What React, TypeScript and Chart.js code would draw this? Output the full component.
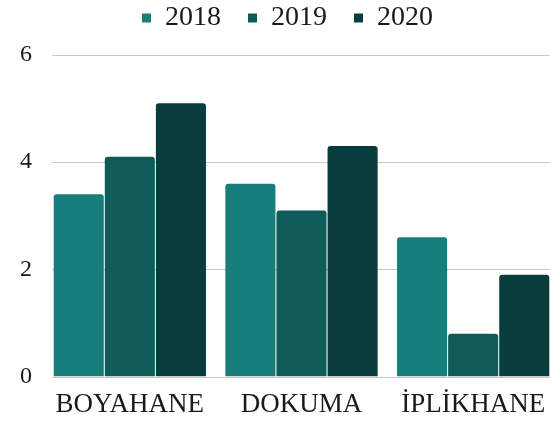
import React, { useEffect, useRef } from "react";
import { Chart, registerables } from "chart.js";

Chart.register(...registerables);

const categories = ["BOYAHANE", "DOKUMA", "İPLİKHANE"];
const seriesLabels = ["2018", "2019", "2020"];
const values2018 = [3.4, 3.6, 2.6];
const values2019 = [4.1, 3.1, 0.8];
const values2020 = [5.1, 4.3, 1.9];
const colors = ["#177e7b", "#0e5b5a", "#083c3d"];
const yTicks = [0, 2, 4, 6];

const FONT = "'Liberation Serif', 'DejaVu Serif', serif";
const CAT_PCT = 0.893;

const insetGrid = {
  id: "insetGrid",
  beforeDatasetsDraw(chart: any) {
    const { ctx, chartArea, scales } = chart;
    const x = scales.x;
    const y = scales.y;
    const catW = (chartArea.right - chartArea.left) / x.ticks.length;
    const inset = (catW * (1 - CAT_PCT)) / 2;
    ctx.save();
    ctx.strokeStyle = "#c8c8c8";
    ctx.lineWidth = 1;
    y.ticks.forEach((t: any) => {
      const py = Math.round(y.getPixelForValue(t.value)) + 0.5;
      ctx.beginPath();
      ctx.moveTo(chartArea.left + inset - 1, py);
      ctx.lineTo(chartArea.right - inset, py);
      ctx.stroke();
    });
    ctx.restore();
  },
};

const legendGap = {
  id: "legendGap",
  beforeInit(chart: any) {
    const legend = chart.legend;
    if (!legend) return;
    const origFit = legend.fit;
    legend.fit = function () {
      origFit.call(this);
      this.height += 13;
    };
  },
};

export default function App() {
  const ref = useRef<HTMLCanvasElement>(null);
  useEffect(() => {
    document.body.style.margin = "0";
    const series = [values2018, values2019, values2020];
    const chart = new Chart(ref.current!, {
      type: "bar",
      data: {
        labels: categories,
        datasets: seriesLabels.map((l, i) => ({
          label: l,
          data: series[i],
          backgroundColor: colors[i],
          borderWidth: 0,
          borderRadius: { topLeft: 3, topRight: 3, bottomLeft: 0, bottomRight: 0 },
          borderSkipped: "bottom",
          categoryPercentage: CAT_PCT,
          barPercentage: 0.98,
        })),
      },
      options: {
        animation: false,
        responsive: false,
        maintainAspectRatio: false,
        layout: { padding: { left: 16, right: 1, top: -23, bottom: 0 } },
        plugins: {
          legend: {
            position: "top",
            labels: {
              boxWidth: 9,
              boxHeight: 9,
              padding: 27,
              color: "#1a1a1a",
              font: { family: FONT, size: 28 },
            },
          },
          tooltip: { enabled: false },
        },
        scales: {
          x: {
            grid: { display: false },
            border: { display: false },
            ticks: { color: "#1a1a1a", font: { family: FONT, size: 27 }, padding: 4, maxRotation: 0 },
          },
          y: {
            min: 0,
            max: 6,
            afterBuildTicks: (axis: any) => {
              axis.ticks = yTicks.map((v) => ({ value: v }));
            },
            grid: { display: false },
            border: { display: false },
            ticks: { color: "#1a1a1a", font: { family: FONT, size: 24 }, padding: 4 },
          },
        },
      },
      plugins: [insetGrid, legendGap],
    });
    return () => chart.destroy();
  }, []);
  return (
    <div style={{ width: 560, height: 425 }}>
      <canvas ref={ref} width={560} height={425} style={{ display: "block" }} />
    </div>
  );
}
